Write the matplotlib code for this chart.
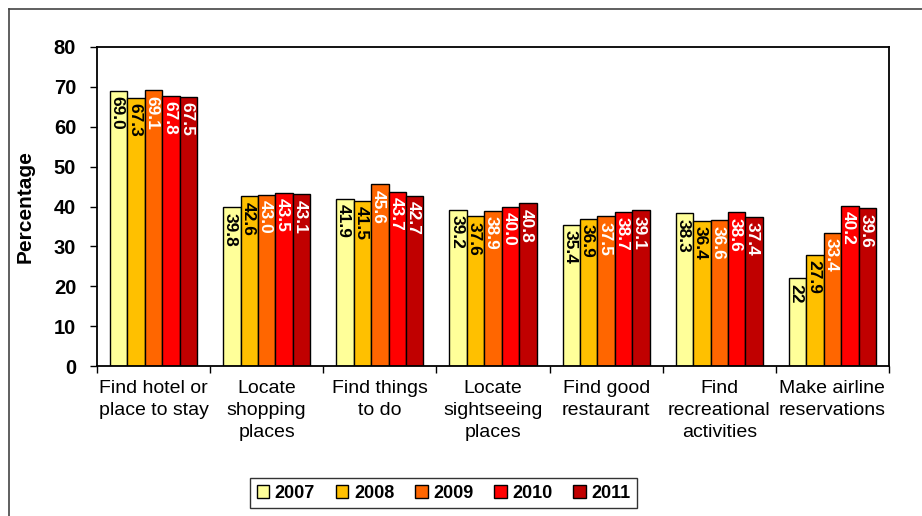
import matplotlib
matplotlib.use('Agg')
import matplotlib.pyplot as plt
from matplotlib.lines import Line2D
import numpy as np

plt.rcParams['font.family'] = ['Liberation Sans', 'DejaVu Sans']

categories = ['Find hotel or\nplace to stay', 'Locate\nshopping\nplaces', 'Find things\nto do',
              'Locate\nsightseeing\nplaces', 'Find good\nrestaurant', 'Find\nrecreational\nactivities',
              'Make airline\nreservations']
years = ['2007', '2008', '2009', '2010', '2011']
v2007 = [69.0, 39.8, 41.9, 39.2, 35.4, 38.3, 22]
v2008 = [67.3, 42.6, 41.5, 37.6, 36.9, 36.4, 27.9]
v2009 = [69.1, 43.0, 45.6, 38.9, 37.5, 36.6, 33.4]
v2010 = [67.8, 43.5, 43.7, 40.0, 38.7, 38.6, 40.2]
v2011 = [67.5, 43.1, 42.7, 40.8, 39.1, 37.4, 39.6]
l2007 = ['69.0', '39.8', '41.9', '39.2', '35.4', '38.3', '22']
l2008 = ['67.3', '42.6', '41.5', '37.6', '36.9', '36.4', '27.9']
l2009 = ['69.1', '43.0', '45.6', '38.9', '37.5', '36.6', '33.4']
l2010 = ['67.8', '43.5', '43.7', '40.0', '38.7', '38.6', '40.2']
l2011 = ['67.5', '43.1', '42.7', '40.8', '39.1', '37.4', '39.6']

series = [v2007, v2008, v2009, v2010, v2011]
labels = [l2007, l2008, l2009, l2010, l2011]
colors = ['#FFFF99', '#FFC000', '#FF6600', '#FF0000', '#C00000']
text_colors = ['black', 'black', 'white', 'white', 'white']

fig = plt.figure(figsize=(9.22, 5.16), dpi=100)
ax = fig.add_axes([97/922, 1-366/516, (889-97)/922, (366-47)/516])

x = np.arange(len(categories))
w = 0.154
for i, (vals, labs) in enumerate(zip(series, labels)):
    pos = x + (i - 2) * w
    bars = ax.bar(pos, vals, w, color=colors[i], edgecolor='black', linewidth=1.0, label=years[i], zorder=2)
    for b, lab in zip(bars, labs):
        ax.annotate(lab, (b.get_x() + b.get_width()/2, b.get_height()), xytext=(0, -4),
                    textcoords='offset points', rotation=-90, rotation_mode='anchor',
                    ha='left', va='center_baseline',
                    fontsize=12.5, fontweight='bold', color=text_colors[i], zorder=3)

ax.set_xlim(-0.5, len(categories) - 0.5)
ax.set_ylim(0, 80)
ax.set_yticks(range(0, 81, 10))
ax.set_yticklabels([str(t) for t in range(0, 81, 10)], fontsize=14.5, fontweight='bold')
ax.set_xticks(x)
ax.set_xticklabels(categories, fontsize=14, linespacing=1.4)
ax.set_xticks(np.arange(-0.5, len(categories), 1), minor=True)
ax.tick_params(axis='x', which='major', length=0, pad=10)
ax.tick_params(axis='x', which='minor', length=5, direction='out', width=1)
ax.tick_params(axis='y', length=5, direction='out', width=1, pad=10)
ax.set_ylabel('Percentage', fontsize=15, fontweight='bold', labelpad=14)
for s in ax.spines.values():
    s.set_color('black')
    s.set_linewidth(1.3)

leg = fig.legend(loc='center', bbox_to_anchor=(443.5/922, 1-493/516), ncol=5,
                 prop={'weight': 'bold', 'size': 13}, frameon=True, fancybox=False,
                 edgecolor='black', handlelength=0.7, handleheight=0.7, handletextpad=0.3,
                 columnspacing=1.15, borderpad=0.35)
leg.get_frame().set_linewidth(1.0)

# outer chart-area frame (cropped at right/bottom)
fig.add_artist(Line2D([9/922, 9/922], [0, 1-9/516], color='#444444', lw=1.2, transform=fig.transFigure))
fig.add_artist(Line2D([9/922, 1], [1-9/516, 1-9/516], color='#444444', lw=1.2, transform=fig.transFigure))

fig.savefig('out.png', dpi=100)
